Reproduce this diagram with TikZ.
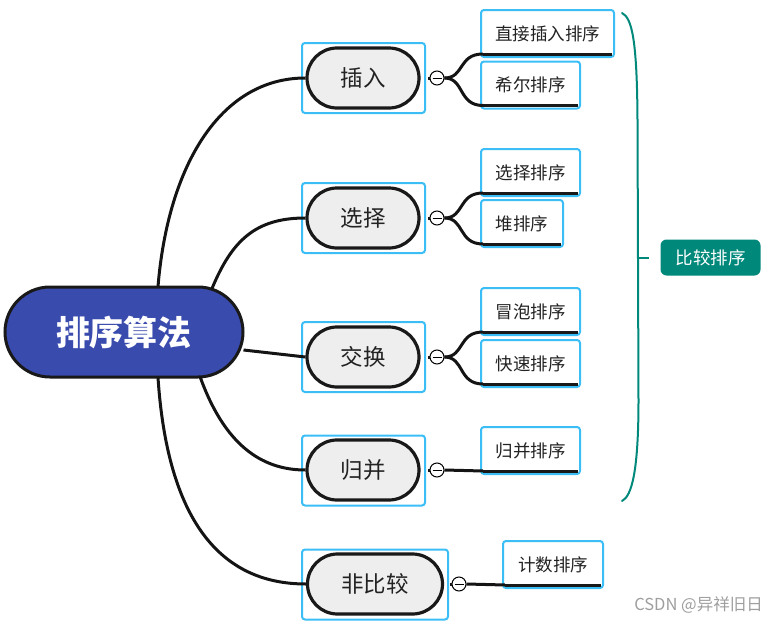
\documentclass[tikz,border=0pt]{standalone}
\usepackage{fontspec}
\newfontfamily\cjk{Noto Sans CJK SC}
\usetikzlibrary{calc}
\definecolor{rootblue}{HTML}{3A4BAE}
\definecolor{selblue}{HTML}{3BBDF6}
\definecolor{teal}{HTML}{00897B}
\definecolor{pillgray}{HTML}{EEEEEE}
\definecolor{txt}{HTML}{222222}
\tikzset{
  rootnode/.style={draw=black!90, line width=3pt, fill=rootblue, rounded corners=45pt,
    minimum width=238pt, minimum height=90pt, inner sep=0pt, text=white,
    font=\cjk\bfseries\fontsize{34}{38}\selectfont},
  pill/.style={draw=black!90, line width=3.2pt, fill=pillgray, rounded corners=30pt,
    minimum width=112pt, minimum height=60pt, inner sep=0pt, text=txt,
    font=\cjk\fontsize{22.5}{26}\selectfont},
  selbox/.style={draw=selblue, line width=2pt, rounded corners=3pt,
    minimum width=123pt, minimum height=70pt, inner sep=0pt},
  leaf/.style={draw=selblue, line width=2pt, rounded corners=3pt, fill=white,
    minimum height=47pt, inner sep=0pt, text=txt,
    font=\cjk\fontsize{17.5}{21}\selectfont},
  conn/.style={draw=black!92, line width=3pt},
  uline/.style={draw=black!90, line width=3pt},
  fold/.style={circle, draw=black, line width=1pt, fill=white, minimum size=14pt, inner sep=0pt},
  tag/.style={fill=teal, rounded corners=6pt, minimum width=100pt, minimum height=36pt,
    inner sep=0pt, text=white, font=\cjk\fontsize{17.5}{21}\selectfont},
}
\begin{document}
\begin{tikzpicture}[x=1pt,y=-1pt]
\useasboundingbox (0,0) rectangle (777,624);
% root
\node[rootnode] (root) at (124,332) {排序算法};
% selection boxes
\node[selbox] (s1) at (363.5,78) {};
\node[selbox] (s2) at (363.5,218) {};
\node[selbox] (s3) at (363.5,357) {};
\node[selbox] (s4) at (363.5,470.5) {};
\node[selbox, minimum width=146pt] (s5) at (375,584.5) {};
% branches
\node[pill] (b1) at (363,78) {插入};
\node[pill] (b2) at (363,218) {选择};
\node[pill] (b3) at (363,357) {交换};
\node[pill] (b4) at (363,470) {归并};
\node[pill, minimum width=135pt] (b5) at (375,584) {非比较};
% root connectors
\draw[conn] ($(root.north)+(34,1)$) .. controls ($(root.north)+(44,-120)$) and ($(b1.west)+(-85,0)$) .. (b1.west);
\draw[conn] ($(root.north)+(88,3)$) .. controls ($(root.north)+(108,-45)$) and ($(b2.west)+(-50,0)$) .. (b2.west);
\draw[conn] ($(root.east)+(-1,18)$) .. controls ($(root.east)+(30,22)$) .. (b3.west);
\draw[conn] ($(root.south)+(76,-2)$) .. controls ($(root.south)+(100,65)$) and ($(b4.west)+(-45,0)$) .. (b4.west);
\draw[conn] ($(root.south)+(34,-1)$) .. controls ($(root.south)+(44,150)$) and ($(b5.west)+(-80,0)$) .. (b5.west);
% leaves
\node[leaf, minimum width=133pt] (l1) at (547.5,33.5) {直接插入排序};
\node[leaf, minimum width=99pt] (l2) at (530.5,85) {希尔排序};
\node[leaf, minimum width=99pt] (l3) at (530.5,172.5) {选择排序};
\node[leaf, minimum width=82pt] (l4) at (522,223.5) {堆排序};
\node[leaf, minimum width=99pt] (l5) at (530.5,311.5) {冒泡排序};
\node[leaf, minimum width=99pt] (l6) at (530.5,363.5) {快速排序};
\node[leaf, minimum width=99pt] (l7) at (530.5,450.5) {归并排序};
\node[leaf, minimum width=100pt] (l8) at (553,564.5) {计数排序};
% underlines
\foreach \l in {l1,l2,l3,l4,l5,l6,l7,l8}{
  \draw[uline] ($(\l.south west)+(3,-4)$) -- ($(\l.south east)+(-3,-4)$);
}
% fold circles
\node[fold] (f1) at (437,78) {};
\node[fold] (f2) at (437,218) {};
\node[fold] (f3) at (437,357) {};
\node[fold] (f4) at (437,470) {};
\node[fold] (f5) at (459,584) {};
\foreach \f in {f1,f2,f3,f4,f5}{
  \draw[line width=1pt] ($(\f.center)+(-4.5,0)$) -- ($(\f.center)+(4.5,0)$);
  \draw[conn] (\f.west) -- ++(-2,0);
}
% leaf connectors
\draw[conn] (f1.east) .. controls ($(f1.east)+(20,0)$) and ($(l1.south west)+(-22,-4)$) .. ($(l1.south west)+(3,-4)$);
\draw[conn] (f1.east) .. controls ($(f1.east)+(20,0)$) and ($(l2.south west)+(-22,-4)$) .. ($(l2.south west)+(3,-4)$);
\draw[conn] (f2.east) .. controls ($(f2.east)+(20,0)$) and ($(l3.south west)+(-22,-4)$) .. ($(l3.south west)+(3,-4)$);
\draw[conn] (f2.east) .. controls ($(f2.east)+(20,0)$) and ($(l4.south west)+(-22,-4)$) .. ($(l4.south west)+(3,-4)$);
\draw[conn] (f3.east) .. controls ($(f3.east)+(20,0)$) and ($(l5.south west)+(-22,-4)$) .. ($(l5.south west)+(3,-4)$);
\draw[conn] (f3.east) .. controls ($(f3.east)+(20,0)$) and ($(l6.south west)+(-22,-4)$) .. ($(l6.south west)+(3,-4)$);
\draw[conn] (f4.east) -- ($(l7.south west)+(3,-4)$);
\draw[conn] (f5.east) -- ($(l8.south west)+(3,-4)$);
% brace
\coordinate (bt) at (622,13);
\coordinate (bb) at (622,501);
\node[tag] (tag) at (710.5,257.5) {比较排序};
\draw[teal, line width=2pt, line cap=round]
  (bt) .. controls (632,18) and (637,40) .. (637.5,120)
  -- (638.5,400) .. controls (638.5,470) and (632,496) .. (bb);
\draw[teal, line width=2pt] (638,257.5) -- ($(tag.west)+(-11,0)$);
% watermark
\node[anchor=east, text=black!38, font=\cjk\fontsize{16.5}{19}\selectfont, inner sep=0pt] (wm) at (763,605) {CSDN @异祥旧日};
\end{tikzpicture}
\end{document}
